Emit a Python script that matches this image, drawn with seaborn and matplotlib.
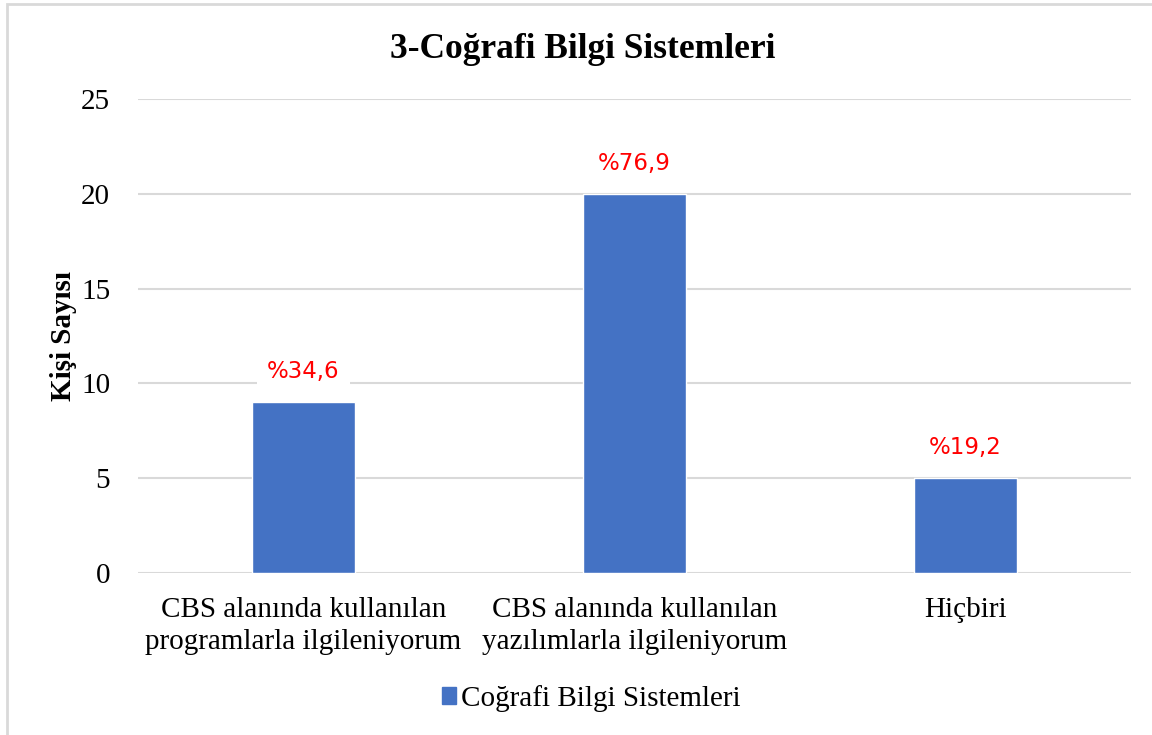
import matplotlib
matplotlib.use('Agg')
import matplotlib.pyplot as plt
import seaborn as sns
import pandas as pd
from matplotlib.patches import Rectangle

categories = ['CBS alanında kullanılan\nprogramlarla ilgileniyorum',
              'CBS alanında kullanılan\nyazılımlarla ilgileniyorum',
              'Hiçbiri']
counts = [9, 20, 5]
pct_labels = ['%34,6', '%76,9', '%19,2']
yticks = [0, 5, 10, 15, 20, 25]
series_name = 'Coğrafi Bilgi Sistemleri'

df = pd.DataFrame({'kategori': categories, 'sayi': counts})

sns.set_theme(style='white')
plt.rcParams['font.family'] = ['Liberation Serif', 'DejaVu Serif']
plt.rcParams['text.color'] = 'black'
plt.rcParams['axes.labelcolor'] = 'black'

fig = plt.figure(figsize=(11.52, 7.35), dpi=100)
ax = fig.add_axes([0.1198, 0.2204, 0.8620, 0.6449])

bar_color = '#4472C4'
sns.barplot(data=df, x='kategori', y='sayi', color=bar_color, width=0.314,
            saturation=1, ax=ax, zorder=3)

ax.set_ylim(0, 25)
ax.set_xlim(-0.5, 2.5)
ax.set_yticks(yticks)
ax.yaxis.grid(True, color='#D9D9D9', linewidth=1.5, zorder=0)
ax.set_axisbelow(True)
ax.spines[['left', 'right', 'top', 'bottom']].set_visible(False)
ax.tick_params(axis='y', length=0, pad=20, labelsize=21, colors='black')
ax.tick_params(axis='x', length=0, pad=17, labelsize=21, colors='black')
for t in ax.get_xticklabels():
    t.set_linespacing(1.3)
ax.set_xlabel('')
ax.set_ylabel('Kişi Sayısı', fontsize=21, weight='bold', labelpad=3)

# title centred on the whole chart
fig.text(0.506, 0.932, '3-Coğrafi Bilgi Sistemleri', ha='center', va='center',
         fontsize=25.5, weight='bold')

# percentage labels with white background
for p, lab in zip(ax.patches, pct_labels):
    x = p.get_x() + p.get_width() / 2
    h = p.get_height()
    ax.annotate(lab, xy=(x, h), xytext=(0, 22), textcoords='offset points',
                ha='center', va='center', color='#FF0000', fontsize=16.5,
                family='DejaVu Sans', zorder=5,
                bbox=dict(boxstyle='square,pad=0.45', fc='white', ec='none'))

# legend at the bottom
handle = Rectangle((0, 0), 1, 1, color=bar_color)
fig.legend([handle], [series_name], loc='center', bbox_to_anchor=(0.513, 0.050),
           frameon=False, fontsize=21, handlelength=0.5, handleheight=0.5,
           handletextpad=0.15)

# chart border
fig.patches.append(Rectangle((7 / 1152, -0.1), 1.1, 1 - 4 / 735 + 0.1,
                             transform=fig.transFigure, fill=False,
                             edgecolor='#D9D9D9', linewidth=2))

fig.savefig('out.png', dpi=100)
